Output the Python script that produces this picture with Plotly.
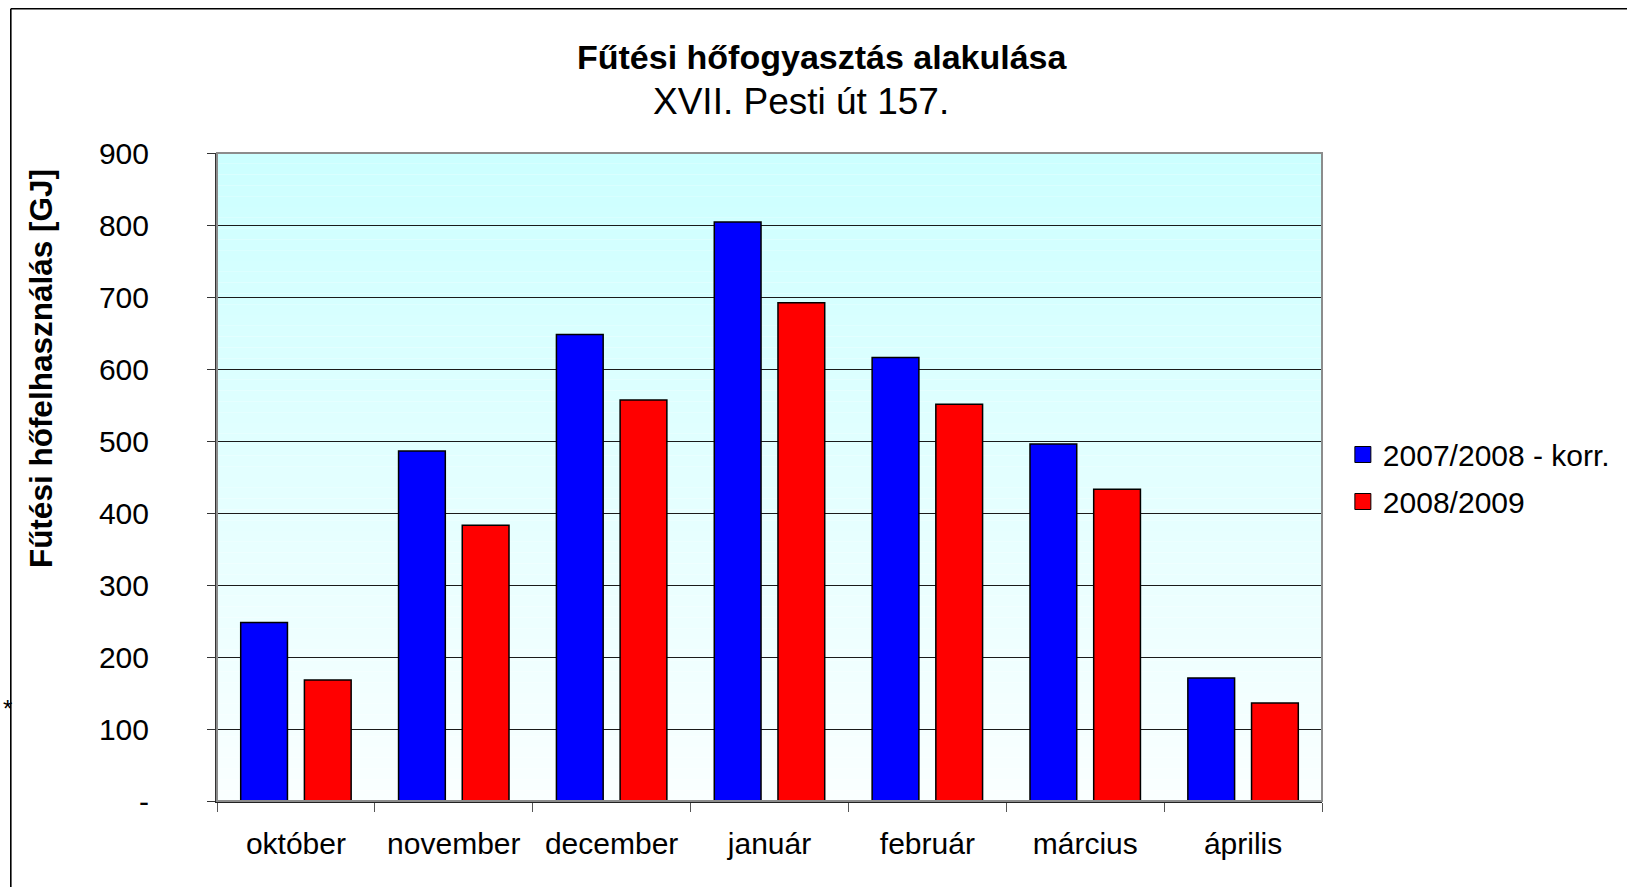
import plotly.graph_objects as go

# ---- data ----
categories = ["október", "november", "december", "január", "február", "március", "április"]
series_names = ["2007/2008 - korr.", "2008/2009"]
values_0708 = [248, 486, 648, 804, 616, 496, 171]
values_0809 = [168, 383, 557, 692, 551, 433, 136]
y_tickvals = [0, 100, 200, 300, 400, 500, 600, 700, 800, 900]
y_ticktext = ["-", "100", "200", "300", "400", "500", "600", "700", "800", "900"]
title_text = "<b>Fűtési hőfogyasztás alakulása</b>"
subtitle_text = "XVII. Pesti út 157."
ytitle_text = "<b>Fűtési hőfelhasználás [GJ]</b>"

# ---- layout geometry (pixels) ----
FW, FH = 1627, 887
L, R, T, B = 217, 1329, 153, 801
W, H = R - L, B - T


def px(x):
    return (x - L) / W


def py(y):
    return (B - y) / H


FONT = "Liberation Sans, Arial, sans-serif"
colors = ["#0000FF", "#FF0000"]

fig = go.Figure()
for name, vals, col in zip(series_names, [values_0708, values_0809], colors):
    fig.add_trace(go.Bar(
        x=categories, y=vals, name=name, showlegend=False,
        marker=dict(color=col, line=dict(color="#000000", width=1.5)),
    ))
# legend proxies (square swatches)
for i, (name, col) in enumerate(zip(series_names, colors)):
    fig.add_trace(go.Scatter(
        x=[None], y=[None], mode="markers", name=name, legendgroup=f"g{i}",
        marker=dict(symbol="square", size=18, color=col, line=dict(color="#000", width=1)),
    ))

shapes = []
# gradient plot background
N = 60
for i in range(N):
    t = (i + 0.5) / N
    r = round(250 - (250 - 204) * t)
    shapes.append(dict(type="rect", xref="x domain", yref="y domain",
                       x0=0, x1=1, y0=i / N, y1=(i + 1) / N,
                       fillcolor=f"rgb({r},255,255)", line=dict(width=0), layer="below"))
# grey plot border (top/right)
shapes.append(dict(type="rect", xref="x domain", yref="y domain", x0=0, x1=1, y0=0, y1=1,
                   line=dict(color="#8c8c8c", width=2), fillcolor="rgba(0,0,0,0)", layer="above"))
# outer chart border (left & top)
shapes.append(dict(type="line", xref="paper", yref="paper",
                   x0=px(9.5), x1=px(FW + 10), y0=py(8.8), y1=py(8.8),
                   line=dict(color="#000", width=1.6)))
shapes.append(dict(type="line", xref="paper", yref="paper",
                   x0=px(9.5), x1=px(9.5), y0=py(8.8), y1=py(FH + 10),
                   line=dict(color="#000", width=1.6)))

annotations = [
    dict(text=title_text, x=px(826), y=py(57), xref="paper", yref="paper",
         xanchor="center", yanchor="middle", showarrow=False,
         font=dict(family=FONT, size=34, color="#000")),
    dict(text=subtitle_text, x=px(805), y=py(101), xref="paper", yref="paper",
         xanchor="center", yanchor="middle", showarrow=False,
         font=dict(family=FONT, size=37, color="#000")),
    dict(text=ytitle_text, x=px(40), y=py(369), xref="paper", yref="paper",
         xanchor="center", yanchor="middle", showarrow=False, textangle=-90,
         font=dict(family=FONT, size=31.5, color="#000")),
    dict(text="*", x=px(0), y=py(708), xref="paper", yref="paper",
         xanchor="left", yanchor="middle", showarrow=False,
         font=dict(family=FONT, size=24, color="#000")),
]

fig.update_layout(
    width=FW, height=FH,
    margin=dict(l=L, r=FW - R, t=T, b=FH - B, pad=0),
    paper_bgcolor="white", plot_bgcolor="rgba(0,0,0,0)",
    font=dict(family=FONT, size=30, color="#000"),
    barmode="group", bargap=0.193, bargroupgap=0.266,
    shapes=shapes, annotations=annotations,
    legend=dict(x=px(1350), y=py(478), xanchor="left", yanchor="middle",
                font=dict(family=FONT, size=30, color="#000"),
                bgcolor="rgba(0,0,0,0)", tracegroupgap=5),
    xaxis=dict(type="category", showline=True, linecolor="#222", linewidth=2,
               ticks="outside", tickson="boundaries", ticklen=9, tickcolor="#555", tickwidth=1,
               showgrid=False, tickfont=dict(family=FONT, size=30, color="#000"),
               ticklabelstandoff=15),
    yaxis=dict(range=[0, 900], tickvals=y_tickvals, ticktext=y_ticktext,
               showline=True, linecolor="#333", linewidth=2,
               ticks="outside", ticklen=8, tickcolor="#333", tickwidth=1,
               showgrid=True, gridcolor="#1a1a1a", gridwidth=1, zeroline=False,
               tickfont=dict(family=FONT, size=30, color="#000"),
               ticklabelstandoff=52),
)

fig.write_html(
    "out.html",
    config={"displayModeBar": False},
    post_script=("document.body.style.margin='0px';"
                 "document.body.style.overflow='hidden';"
                 "document.documentElement.style.overflow='hidden';"),
)
